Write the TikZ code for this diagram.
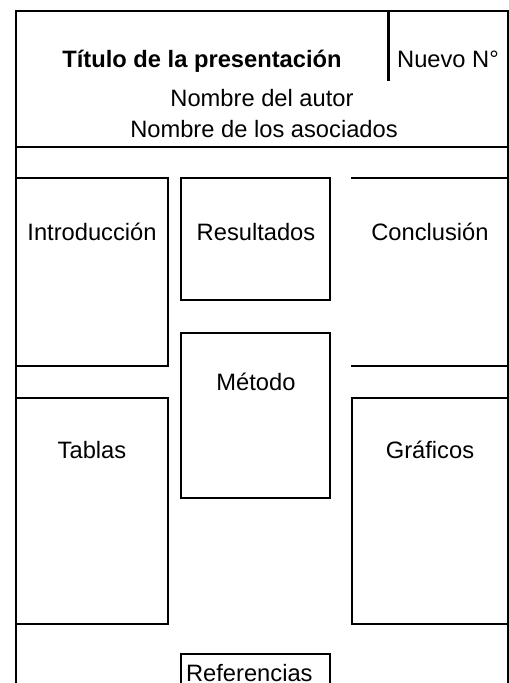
\documentclass[tikz,border=0pt]{standalone}
\usepackage{fontspec}
\setmainfont{Liberation Sans}
\usepackage{tikz}

\begin{document}
\begin{tikzpicture}[x=1bp,y=-1bp,line width=2.2bp,
    lbl/.style={inner sep=0pt,anchor=base,font=\fontsize{23.7bp}{28bp}\selectfont},
    ttl/.style={lbl,font=\fontsize{23.7bp}{28bp}\selectfont\bfseries}]
    \useasboundingbox (0,0) rectangle (509,683);
    % Outer frame and header
    \draw (16,690) -- (16,11) -- (508,11) -- (508,690);
    \draw [line width=3bp] (388.5,11) -- (388.5,81);
    \draw (16,147) -- (508,147);
    \node [ttl] (title) at (202,68) {Título de la presentación};
    \node [lbl] (number) at (448,68) {Nuevo N°};
    \node [lbl] (author) at (262,107) {Nombre del autor};
    \node [lbl] (partners) at (264,137) {Nombre de los asociados};
    % Upper row of panels
    \draw (16,178) -- (168,178) -- (168,366) -- (16,366);
    \draw (181,178) rectangle (330,300);
    \draw (351,178) -- (508,178);
    \draw (351,366) -- (508,366);
    \node [lbl] (intro) at (92,240) {Introducción};
    \node [lbl] (results) at (256,240) {Resultados};
    \node [lbl] (concl) at (430,240) {Conclusión};
    % Middle panel
    \draw (181,333) rectangle (330,498);
    \node [lbl] (method) at (256,390) {Método};
    % Lower row of panels
    \draw (16,398) -- (168,398) -- (168,624) -- (16,624);
    \draw (508,398) -- (352,398) -- (352,624) -- (508,624);
    \node [lbl] (tables) at (92,458) {Tablas};
    \node [lbl] (graphs) at (430,458) {Gráficos};
    % References, cut by the lower edge
    \draw (181,690) -- (181,654) -- (330,654) -- (330,690);
    \node [lbl,anchor=base west] (refs) at (185,681) {Referencias};
\end{tikzpicture}
\end{document}
